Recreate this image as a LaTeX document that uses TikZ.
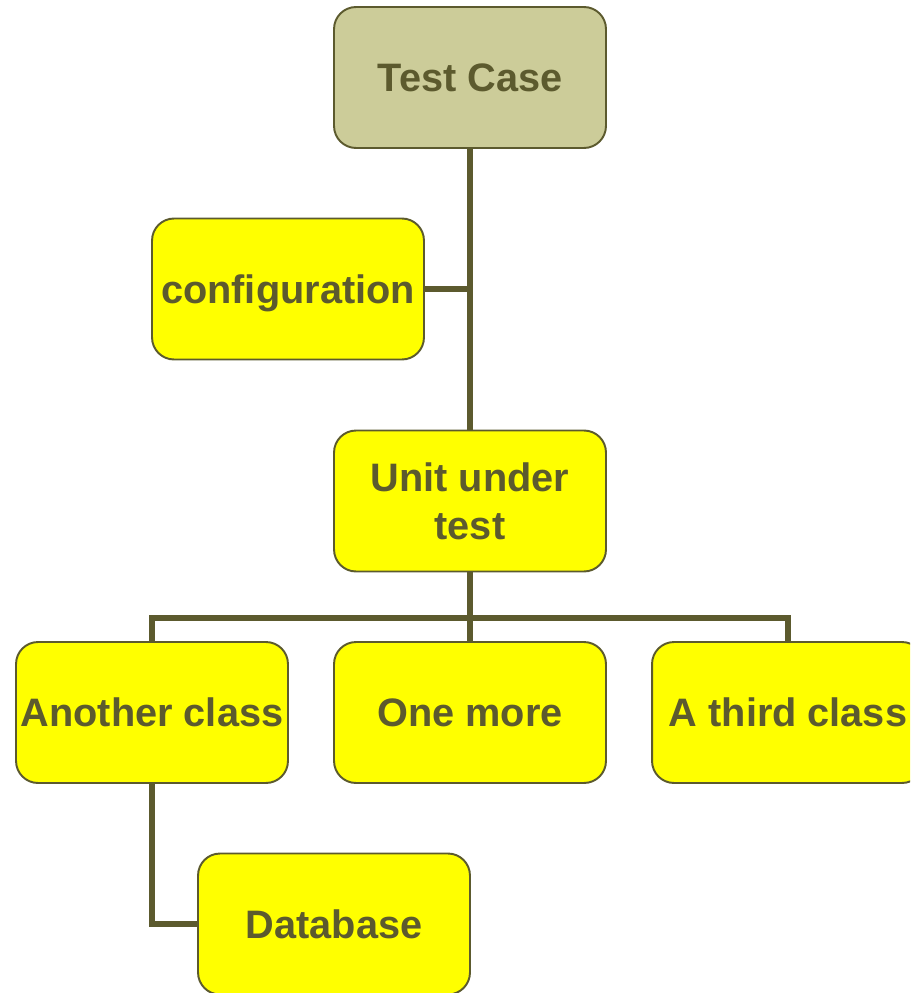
\documentclass[tikz,border=0pt]{standalone}
\usepackage{fontspec}
\setmainfont{Liberation Sans}
\begin{document}
\begin{tikzpicture}[x=0.02cm,y=-0.02cm,
  box/.style={draw=olivedark,line width=1.1pt,rounded corners=0.44cm,fill=boxyellow,
    minimum width=5.44cm,minimum height=2.82cm,align=center,text=olivedark,
    font=\fontsize{22.6}{27.5}\selectfont\bfseries,inner sep=0pt},
  link/.style={draw=olivedark,line width=3.2pt}]
  \definecolor{olivedark}{HTML}{5C5A2E}
  \definecolor{boxyellow}{HTML}{FFFF00}
  \definecolor{khaki}{HTML}{CCCC99}
  \clip (0,0) rectangle (910,993);
  \useasboundingbox (0,0) rectangle (910,993);
  % boxes
  \node[box,fill=khaki] (tc) at (470,77.5) {Test Case};
  \node[box,text depth=0pt] (conf) at (288,289) {configuration};
  \node[box] (unit) at (470,501) {Unit under\\ test};
  \node[box] (another) at (152,712.5) {Another class};
  \node[box] (onemore) at (470,712.5) {One more};
  \node[box] (third) at (788,712.5) {A third class};
  \node[box] (db) at (334,924) {Database};
  % links
  \coordinate (bus) at (470,618);
  \draw[link] (tc.south) -- (unit.north);
  \draw[link] (conf.east) -- (conf.east -| tc.south);
  \draw[link] (unit.south) -- (onemore.north);
  \draw[link] (another.north) |- (bus) -| (third.north);
  \draw[link] (another.south) |- (db.west);
\end{tikzpicture}
\end{document}
